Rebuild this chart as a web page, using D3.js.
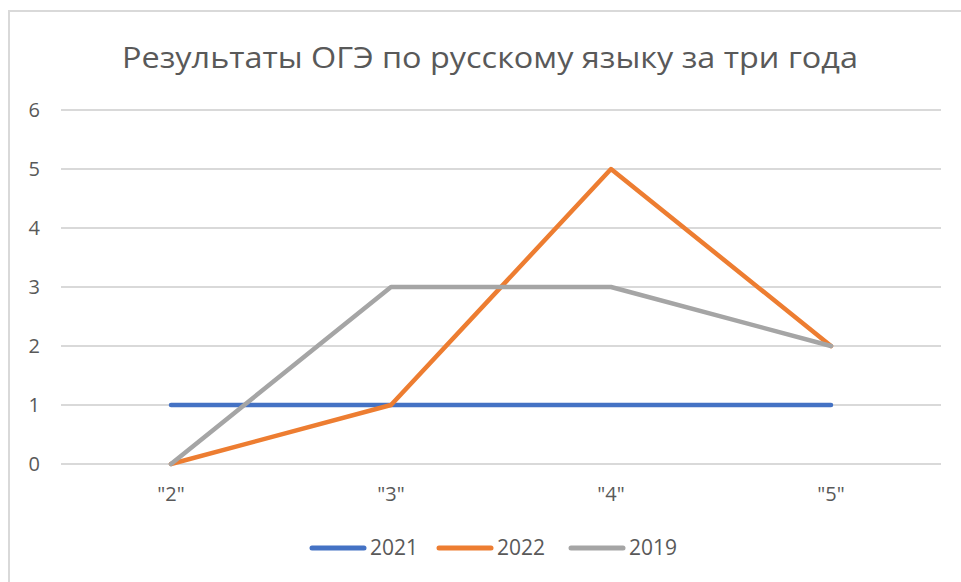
<!DOCTYPE html>
<html>
<head>
<meta charset="utf-8">
<script src="https://cdn.jsdelivr.net/npm/d3@7"></script>
<style>
  body { margin: 0; background: #fff; }
  text { font-family: "Open Sans", sans-serif; fill: #595959; }
</style>
</head>
<body>
<svg width="961" height="582"></svg>
<script>
var categories = ['"2"', '"3"', '"4"', '"5"'];
var years = ['2021', '2022', '2019'];
var values2021 = [1, 1, 1, 1];
var values2022 = [0, 1, 5, 2];
var values2019 = [0, 3, 3, 2];
var yTicks = [0, 1, 2, 3, 4, 5, 6];
var title = 'Результаты ОГЭ по русскому языку за три года';

var series = [
  {name: years[0], values: values2021, color: '#4472c4'},
  {name: years[1], values: values2022, color: '#ed7d31'},
  {name: years[2], values: values2019, color: '#a5a5a5'}
];

var svg = d3.select('svg');

// chart frame
svg.append('rect')
    .attr('x', 9).attr('y', 11)
    .attr('width', 1000).attr('height', 600)
    .attr('fill', 'none')
    .attr('stroke', '#d9d9d9')
    .attr('stroke-width', 2);

svg.append('text')
    .attr('x', 490).attr('y', 68)
    .attr('text-anchor', 'middle')
    .attr('textLength', 736)
    .attr('lengthAdjust', 'spacingAndGlyphs')
    .style('font-size', '29px')
    .text(title);

var xScale = d3.scaleBand()
    .domain(categories)
    .range([61, 941]);

var yScale = d3.scaleLinear()
    .domain([0, 6])
    .range([464, 110]);

// gridlines
svg.append('g')
    .selectAll('line')
    .data(yTicks)
    .enter()
    .append('line')
    .attr('x1', 61).attr('x2', 941)
    .attr('y1', function(d) { return yScale(d); })
    .attr('y2', function(d) { return yScale(d); })
    .attr('stroke', '#d9d9d9')
    .attr('stroke-width', 2);

var yAxis = d3.axisLeft(yScale).tickValues(yTicks).tickFormat(d3.format('d')).tickSize(0).tickPadding(0);
var yG = svg.append('g')
    .attr('transform', 'translate(40,0)')
    .call(yAxis);
yG.select('.domain').remove();
yG.selectAll('text').style('font-size', '20px').style('fill', '#595959').style('font-family', '"Open Sans", sans-serif');

var xAxis = d3.axisBottom(xScale).tickSize(0).tickPadding(0);
var xG = svg.append('g')
    .attr('transform', 'translate(0,487)')
    .call(xAxis);
xG.select('.domain').remove();
xG.selectAll('text').style('font-size', '20px').style('fill', '#595959').style('font-family', '"Open Sans", sans-serif');

var line = d3.line()
    .x(function(d, i) { return xScale(categories[i]) + xScale.bandwidth() / 2; })
    .y(function(d) { return yScale(d); });

svg.append('g')
    .selectAll('path')
    .data(series)
    .enter()
    .append('path')
    .attr('d', function(d) { return line(d.values); })
    .attr('fill', 'none')
    .attr('stroke', function(d) { return d.color; })
    .attr('stroke-width', 4.5)
    .attr('stroke-linejoin', 'round')
    .attr('stroke-linecap', 'round');

// legend
var legendX = [310, 437, 569];
var legend = svg.append('g')
    .selectAll('g')
    .data(series)
    .enter()
    .append('g')
    .attr('transform', function(d, i) { return 'translate(' + legendX[i] + ',548)'; });

legend.append('line')
    .attr('x1', 2).attr('x2', 54)
    .attr('stroke', function(d) { return d.color; })
    .attr('stroke-width', 5)
    .attr('stroke-linecap', 'round');

legend.append('text')
    .attr('x', 60).attr('y', 7)
    .style('font-size', '21px')
    .text(function(d) { return d.name; });
</script>
</body>
</html>
